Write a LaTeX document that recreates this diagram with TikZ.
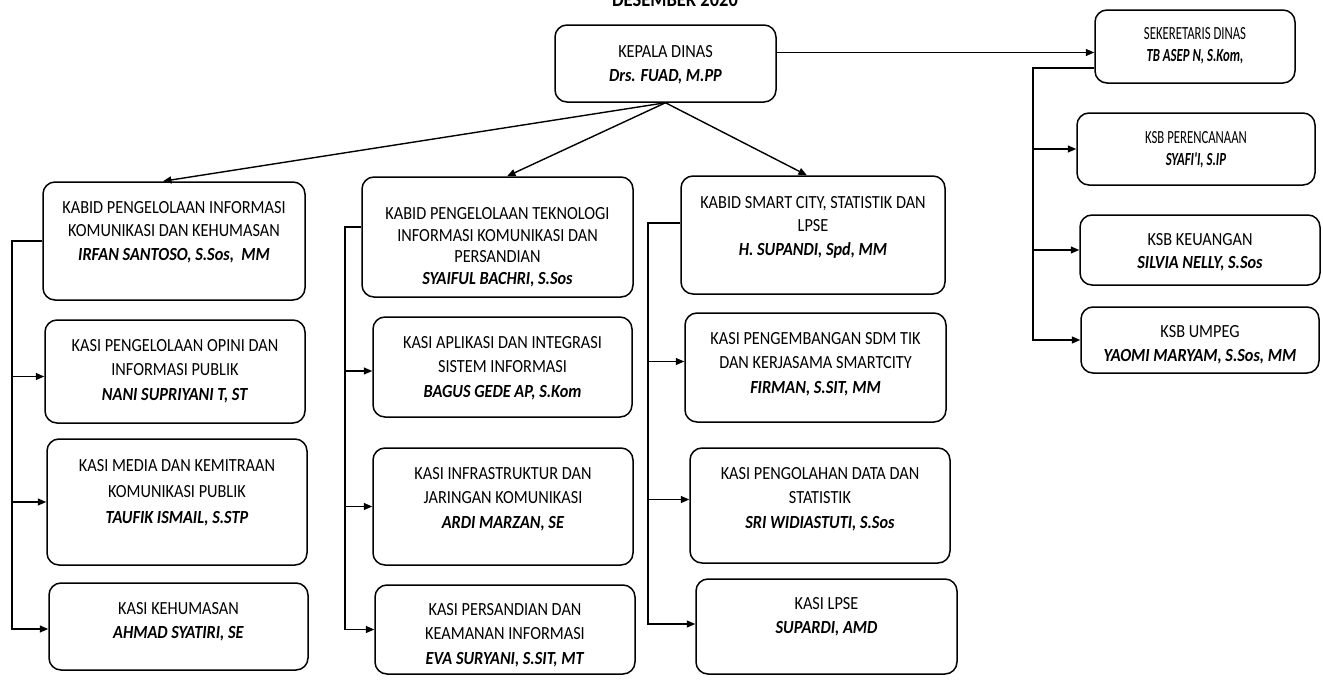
\documentclass[tikz,border=0pt]{standalone}
\usepackage{fontspec}
\setmainfont{Carlito}[FakeStretch=0.88]
\newfontfamily\narrowfont{Carlito}[FakeStretch=0.69]
\usetikzlibrary{arrows.meta,fit,calc}
\tikzset{
  orgbox/.style={draw, rounded corners=12pt, line width=1.5pt, inner sep=0pt},
  txt/.style={anchor=north, align=center, inner sep=0pt, font=\fontsize{18.5}{24.5}\selectfont},
  narrowtxt/.style={anchor=north, align=center, inner sep=0pt, font=\narrowfont\fontsize{18.5}{22}\selectfont},
  conn/.style={line width=1.4pt},
  arr/.style={conn, -{Triangle[length=8.5pt,width=7pt]}},
}
\newcommand\nm[1]{\textbf{\textit{#1}}}
\begin{document}
\begin{tikzpicture}[x=1pt,y=-1pt]
\useasboundingbox (0,0) rectangle (1323,680);
\clip (0,0) rectangle (1323,680);
\node[anchor=base, inner sep=0pt, font=\fontsize{21}{24}\selectfont\bfseries] (title) at (675,6) {DESEMBER 2020};

% Kepala Dinas
\node[orgbox, fit={(555,25) (776,102)}] (kd) {};
\node[txt] (kdt) at (665.5,45) {KEPALA DINAS\\\nm{Drs. FUAD, M.PP}};

% Secretariat
\node[orgbox, fit={(1095,10) (1295,83)}] (sek) {};
\node[narrowtxt] (sekt) at (1195,27) {SEKERETARIS DINAS\\\nm{TB ASEP N, S.Kom,}};
\node[orgbox, fit={(1077,113) (1315,185)}] (ksb1) {};
\node[narrowtxt] (ksb1t) at (1196,131) {KSB PERENCANAAN\\\nm{SYAFI'I, S.IP}};
\node[orgbox, fit={(1080,215) (1320,285)}] (ksb2) {};
\node[txt, font=\fontsize{18.5}{22.5}\selectfont] (ksb2t) at (1200,233.3) {KSB KEUANGAN\\\nm{SILVIA NELLY, S.Sos}};
\node[orgbox, fit={(1081,307) (1319,373)}] (ksb3) {};
\node[txt, font=\fontsize{18.5}{24}\selectfont] (ksb3t) at (1200,325) {KSB UMPEG\\\nm{YAOMI MARYAM, S.Sos, MM}};

% Left column
\node[orgbox, fit={(43,182) (305,300)}] (kab1) {};
\node[txt, font=\fontsize{18.5}{23.5}\selectfont] (kab1t) at (174,201) {KABID PENGELOLAAN INFORMASI\\KOMUNIKASI DAN KEHUMASAN\\\nm{IRFAN SANTOSO, S.Sos,\ \ MM}};
\node[orgbox, fit={(45,320) (305,423)}] (k11) {};
\node[txt] (k11t) at (175,339) {KASI PENGELOLAAN OPINI DAN\\INFORMASI PUBLIK\\\nm{NANI SUPRIYANI T, ST}};
\node[orgbox, fit={(47,439) (307,565)}] (k12) {};
\node[txt, font=\fontsize{18.5}{26}\selectfont] (k12t) at (177,459) {KASI MEDIA DAN KEMITRAAN\\KOMUNIKASI PUBLIK\\\nm{TAUFIK ISMAIL, S.STP}};
\node[orgbox, fit={(49,583) (308,670)}] (k13) {};
\node[txt] (k13t) at (178.5,602) {KASI KEHUMASAN\\\nm{AHMAD SYATIRI, SE}};

% Middle column
\node[orgbox, fit={(362,177) (633,297)}] (kab2) {};
\node[txt, font=\fontsize{18.5}{21.5}\selectfont] (kab2t) at (497.5,207.3) {KABID PENGELOLAAN TEKNOLOGI\\INFORMASI KOMUNIKASI DAN\\PERSANDIAN\\\nm{SYAIFUL BACHRI, S.Sos}};
\node[orgbox, fit={(373,317) (632,417)}] (k21) {};
\node[txt] (k21t) at (502.5,336) {KASI APLIKASI DAN INTEGRASI\\SISTEM INFORMASI\\\nm{BAGUS GEDE AP, S.Kom}};
\node[orgbox, fit={(373,448) (633,565)}] (k22) {};
\node[txt] (k22t) at (503,467) {KASI INFRASTRUKTUR DAN\\JARINGAN KOMUNIKASI\\\nm{ARDI MARZAN, SE}};
\node[orgbox, fit={(375,585) (635,674)}] (k23) {};
\node[txt] (k23t) at (505,603) {KASI PERSANDIAN DAN\\KEAMANAN INFORMASI\\\nm{EVA SURYANI, S.SIT, MT}};

% Right column
\node[orgbox, fit={(681,176) (945,294)}] (kab3) {};
\node[txt, font=\fontsize{18.5}{23.5}\selectfont] (kab3t) at (813,196) {KABID SMART CITY, STATISTIK DAN\\LPSE\\\nm{H. SUPANDI, Spd, MM}};
\node[orgbox, fit={(685,313) (946,422)}] (k31) {};
\node[txt] (k31t) at (815.5,332) {KASI PENGEMBANGAN SDM TIK\\DAN KERJASAMA SMARTCITY\\\nm{FIRMAN, S.SIT, MM}};
\node[orgbox, fit={(690,448) (950,563)}] (k32) {};
\node[txt] (k32t) at (820,467) {KASI PENGOLAHAN DATA DAN\\STATISTIK\\\nm{SRI WIDIASTUTI, S.Sos}};
\node[orgbox, fit={(696,579) (957,674)}] (k33) {};
\node[txt] (k33t) at (826.5,597) {KASI LPSE\\\nm{SUPARDI, AMD}};

% bus coordinates
\coordinate (lb) at (12,0);
\coordinate (mb) at (345,0);
\coordinate (rb) at (648,0);
\coordinate (sb) at (1033,0);

% Kepala Dinas to Kabid
\draw[arr] (kd.south) -- ($(kab1.north west)!0.458!(kab1.north east)$);
\draw[arr] (kd.south) -- ($(kab2.north west)!0.535!(kab2.north east)$);
\draw[arr] (kd.south) -- ($(kab3.north west)!0.477!(kab3.north east)$);

% Kepala Dinas to Sekretaris
\draw[arr] ([yshift=11pt]kd.east) -- ([yshift=11pt]kd.east -| sek.west);

% Secretariat bus
\draw[arr] ([yshift=-21.5pt]sek.west) -| (sb |- ksb3.west) -- (ksb3.west);
\draw[arr] (sb |- ksb1.west) -- (ksb1.west);
\draw[arr] (sb |- ksb2.west) -- (ksb2.west);

% Left bus
\draw[arr] (kab1.west) -| ([yshift=-2.5pt]lb |- k13.west) -- ([yshift=-2.5pt]k13.west);
\draw[arr] ([yshift=-5pt]lb |- k11.west) -- ([yshift=-5pt]k11.west);
\draw[arr] (lb |- k12.west) -- (k12.west);

% Middle bus
\draw[arr] ([yshift=10pt]kab2.west) -| (mb |- k23.west) -- (k23.west);
\draw[arr] ([yshift=-4pt]mb |- k21.west) -- ([yshift=-4pt]k21.west);
\draw[arr] (mb |- k22.west) -- (k22.west);

% Right bus
\draw[arr] ([yshift=12pt]kab3.west) -| ([yshift=2.5pt]rb |- k33.west) -- ([yshift=2.5pt]k33.west);
\draw[arr] ([yshift=6pt]rb |- k31.west) -- ([yshift=6pt]k31.west);
\draw[arr] ([yshift=6pt]rb |- k32.west) -- ([yshift=6pt]k32.west);
\end{tikzpicture}
\end{document}
